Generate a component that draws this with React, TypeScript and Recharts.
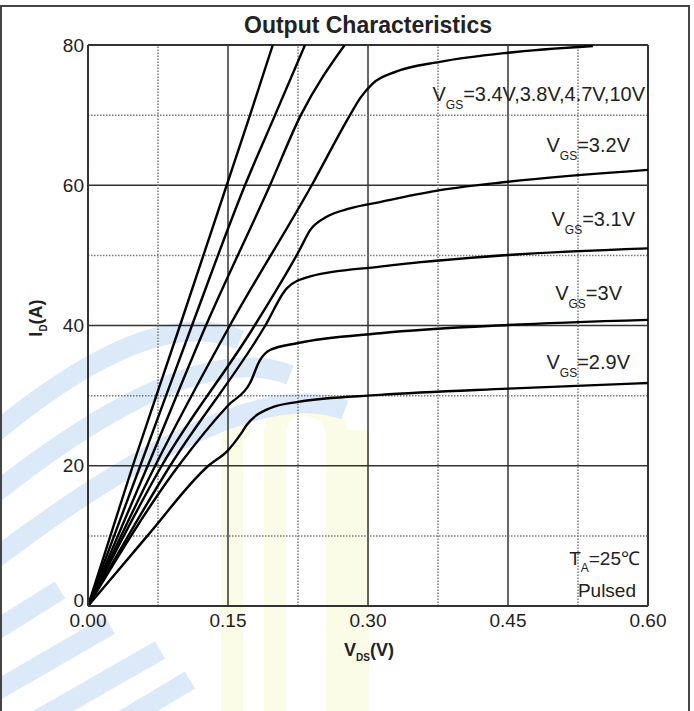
import React from 'react';
import { LineChart, Line, XAxis, YAxis, CartesianGrid, ReferenceLine } from 'recharts';

// Axis ticks
const xTicks = [0, 0.15, 0.3, 0.45, 0.6];
const yTicks = [0, 20, 40, 60, 80];
const xMinor = [0.075, 0.225, 0.375, 0.525];
const yMinor = [10, 30, 50, 70];

// VGS = 10V
const vds10 = [0, 0.048, 0.0986, 0.1486, 0.1736, 0.198];
const id10 = [0, 20, 40, 60, 70, 80];
// VGS = 4.7V
const vds47 = [0, 0.056, 0.1114, 0.1682, 0.2004, 0.2325];
const id47 = [0, 20, 40, 60, 70, 80];
// VGS = 3.8V
const vds38 = [0, 0.064, 0.1264, 0.195, 0.228, 0.275];
const id38 = [0, 20, 40, 60, 70, 80];
// VGS = 3.4V
const vds34 = [0, 0.072, 0.152, 0.2397, 0.2807, 0.292, 0.305, 0.33, 0.377, 0.45, 0.541];
const id34 = [0, 20, 40, 60, 70, 72.5, 74.5, 76.2, 77.6, 78.9, 79.85];
// VGS = 3.2V
const vds32 = [0, 0.079, 0.1786, 0.2268, 0.238, 0.2557, 0.2807, 0.3129, 0.377, 0.45, 0.6];
const id32 = [0, 20, 40, 50.8, 53.6, 55.5, 56.7, 57.6, 59.3, 60.5, 62.2];
// VGS = 3.1V
const vds31 = [0, 0.088, 0.19, 0.213, 0.238, 0.3129, 0.45, 0.6];
const id31 = [0, 20, 40, 45.3, 47, 48.4, 50.05, 51];
// VGS = 3V
const vds30 = [0, 0.097, 0.15, 0.1736, 0.184, 0.195, 0.225, 0.3129, 0.45, 0.6];
const id30 = [0, 20, 28.6, 31.8, 35, 36.5, 37.5, 38.9, 40.07, 40.8];
// VGS = 2.9V
const vds29 = [0, 0.0636, 0.129, 0.15, 0.163, 0.17, 0.195, 0.225, 0.3129, 0.45, 0.6];
const id29 = [0, 10, 20, 22.2, 24.4, 25.8, 28.2, 29.1, 30.1, 31, 31.8];

const toPts = (xs: number[], ys: number[]) => xs.map((v, k) => ({ v, i: ys[k] }));

const series = [
  toPts(vds10, id10),
  toPts(vds47, id47),
  toPts(vds38, id38),
  toPts(vds34, id34),
  toPts(vds32, id32),
  toPts(vds31, id31),
  toPts(vds30, id30),
  toPts(vds29, id29),
];

const FONT = '"Liberation Sans", Arial, Helvetica, sans-serif';

const Vgs = ({ x, y, val }: { x: number; y: number; val: string }) => (
  <text x={x} y={y} textAnchor="end" fontFamily={FONT} fontSize={20} fill="#222">
    V
    <tspan fontSize={12} dy={8}>GS</tspan>
    <tspan dy={-8}>{val}</tspan>
  </text>
);

const YTick = (props: any) => {
  const { x, y, payload } = props;
  const dy = payload.value === 0 ? -6 : 0;
  return (
    <text x={x} y={y + dy} dy="0.355em" textAnchor="end" fontFamily={FONT} fontSize={19} fill="#222">
      {payload.value}
    </text>
  );
};

const BLUE = '#dce9f8';
const YEL = '#fbfce8';

export default function App() {
  return (
    <div style={{ position: 'fixed', left: 0, top: 0, width: 694, height: 711, background: '#fff', overflow: 'hidden' }}>
      {/* faint background watermark */}
      <svg width={694} height={711} style={{ position: 'absolute', left: 0, top: 0 }}>
        <g fill="none" stroke={YEL} strokeWidth={22}>
          <path d="M 232 720 L 232 450 Q 232 425 250 425" />
          <path d="M 275 720 L 275 430 Q 280 405 300 405 Q 337 405 337 440 L 337 720" />
          <path d="M 358 720 L 358 430" />
        </g>
        <g fill="none" stroke={BLUE} strokeWidth={20} strokeLinecap="butt">
          <path d="M -20 445 Q 150 300 240 340" />
          <path d="M -20 505 Q 190 335 290 375" />
          <path d="M -20 570 Q 240 370 345 410" />
          <path d="M -20 640 L 60 590" />
          <path d="M -20 700 L 110 625" />
          <path d="M 20 730 L 160 650" />
          <path d="M 90 740 L 190 680" />
        </g>
      </svg>
      <div style={{ position: 'absolute', left: 0, top: 5, width: 690, height: 730, border: '2px solid #444', boxSizing: 'border-box' }} />
      <div style={{ position: 'absolute', left: 0, top: 0 }}>
        <LineChart width={694} height={711} margin={{ top: 45, right: 46, bottom: 75, left: 0 }}>
          <CartesianGrid stroke="#333" strokeWidth={1.5} horizontal vertical />
          {xMinor.map((x) => (
            <ReferenceLine key={'vx' + x} x={x} stroke="#777" strokeWidth={1.5} strokeDasharray="1.5 1.5" />
          ))}
          {yMinor.map((y) => (
            <ReferenceLine key={'hy' + y} y={y} stroke="#777" strokeWidth={1.5} strokeDasharray="1.5 1.5" />
          ))}
          <XAxis
            type="number"
            dataKey="v"
            domain={[0, 0.6]}
            ticks={xTicks}
            tickFormatter={(t: number) => t.toFixed(2)}
            tick={{ fontFamily: FONT, fontSize: 19, fill: '#222' }}
            tickLine={false}
            tickSize={0}
            tickMargin={8}
            axisLine={{ stroke: '#333', strokeWidth: 2 }}
            height={30}
            allowDataOverflow
          />
          <YAxis
            type="number"
            dataKey="i"
            domain={[0, 80]}
            ticks={yTicks}
            tick={<YTick />}
            tickLine={false}
            tickSize={0}
            tickMargin={4}
            axisLine={{ stroke: '#333', strokeWidth: 2 }}
            width={88}
            allowDataOverflow
          />
          <ReferenceLine x={0.6} stroke="#333" strokeWidth={2} />
          <ReferenceLine y={80} stroke="#333" strokeWidth={2} />
          {series.map((d, k) => (
            <Line
              key={k}
              data={d}
              dataKey="i"
              type="monotone"
              stroke="#000"
              strokeWidth={2.4}
              dot={false}
              activeDot={false}
              isAnimationActive={false}
            />
          ))}
        </LineChart>
      </div>
      <svg width={694} height={711} style={{ position: 'absolute', left: 0, top: 0, pointerEvents: 'none' }}>
        <text x={368} y={33} textAnchor="middle" fontFamily={FONT} fontSize={23} fontWeight="bold" fill="#222">
          Output Characteristics
        </text>
        <Vgs x={645} y={101} val="=3.4V,3.8V,4.7V,10V" />
        <Vgs x={630} y={152} val="=3.2V" />
        <Vgs x={635} y={226} val="=3.1V" />
        <Vgs x={622} y={300} val="=3V" />
        <Vgs x={630} y={369} val="=2.9V" />
        <text x={640} y={565} textAnchor="end" fontFamily={FONT} fontSize={19} fill="#222">
          T<tspan fontSize={12} dy={7}>A</tspan>
          <tspan dy={-7}>=25℃</tspan>
        </text>
        <text x={636} y={597} textAnchor="end" fontFamily={FONT} fontSize={19} fill="#222">
          Pulsed
        </text>
        <text x={369} y={656} textAnchor="middle" fontFamily={FONT} fontSize={18} fontWeight="bold" fill="#222">
          V<tspan fontSize={10} dy={5}>DS</tspan>
          <tspan dy={-5}>(V)</tspan>
        </text>
        <text
          x={0}
          y={0}
          transform="translate(42,318) rotate(-90)"
          textAnchor="middle"
          fontFamily={FONT}
          fontSize={18}
          fontWeight="bold"
          fill="#222"
        >
          I<tspan fontSize={10} dy={5}>D</tspan>
          <tspan dy={-5}>(A)</tspan>
        </text>
      </svg>
    </div>
  );
}
